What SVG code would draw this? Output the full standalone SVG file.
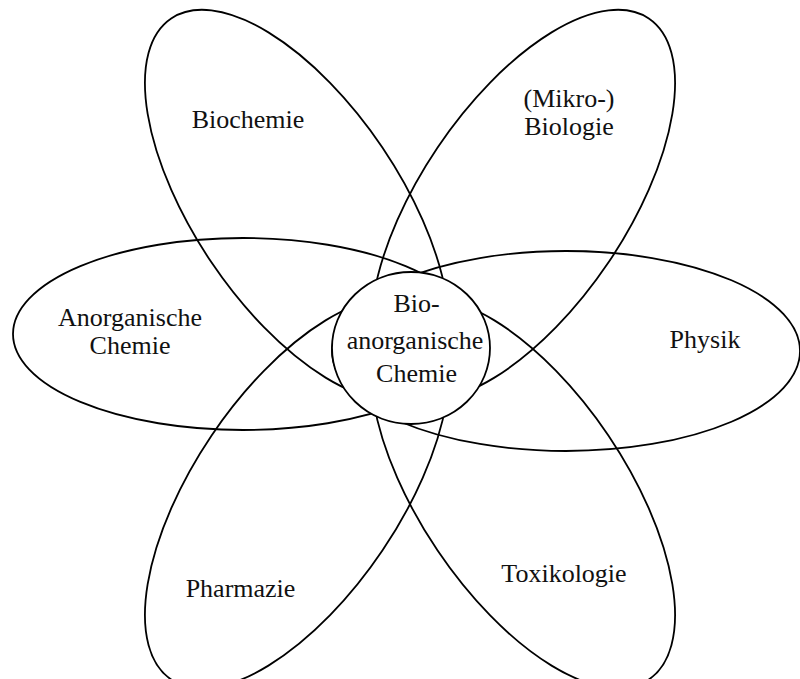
<svg xmlns="http://www.w3.org/2000/svg" width="800" height="679" viewBox="0 0 800 679">
<style>
.o{fill:none;stroke:#000;stroke-width:1.8}
.c{fill:#fff;stroke:#000;stroke-width:1.8}
text{font-family:"Liberation Serif","Times New Roman",serif;font-size:26px;fill:#111;text-anchor:middle}
</style>
<rect width="800" height="679" fill="#fff"/>
<g id="biochemie">
<ellipse class="o" cx="297" cy="205" rx="225" ry="103" transform="rotate(56 297 205)"/>
<text x="248" y="128">Biochemie</text>
</g>
<g id="mikrobiologie">
<ellipse class="o" cx="523" cy="205" rx="225" ry="103" transform="rotate(-56 523 205)"/>
<text x="569" y="107">(Mikro-)</text>
<text x="569" y="135">Biologie</text>
</g>
<g id="anorganische-chemie">
<ellipse class="o" cx="243" cy="334" rx="230" ry="96"/>
<text x="130" y="326">Anorganische</text>
<text x="130" y="354">Chemie</text>
</g>
<g id="physik">
<ellipse class="o" cx="566" cy="351" rx="234" ry="100"/>
<text x="705" y="348">Physik</text>
</g>
<g id="pharmazie">
<ellipse class="o" cx="297" cy="493" rx="225" ry="103" transform="rotate(-56 297 493)"/>
<text x="240.5" y="597">Pharmazie</text>
</g>
<g id="toxikologie">
<ellipse class="o" cx="523" cy="493" rx="225" ry="103" transform="rotate(56 523 493)"/>
<text x="564" y="582">Toxikologie</text>
</g>
<g id="bioanorganische-chemie">
<ellipse class="c" cx="411" cy="348" rx="79" ry="76"/>
<text x="416.5" y="312">Bio-</text>
<text x="415" y="349">anorganische</text>
<text x="416.5" y="382">Chemie</text>
</g>
</svg>
